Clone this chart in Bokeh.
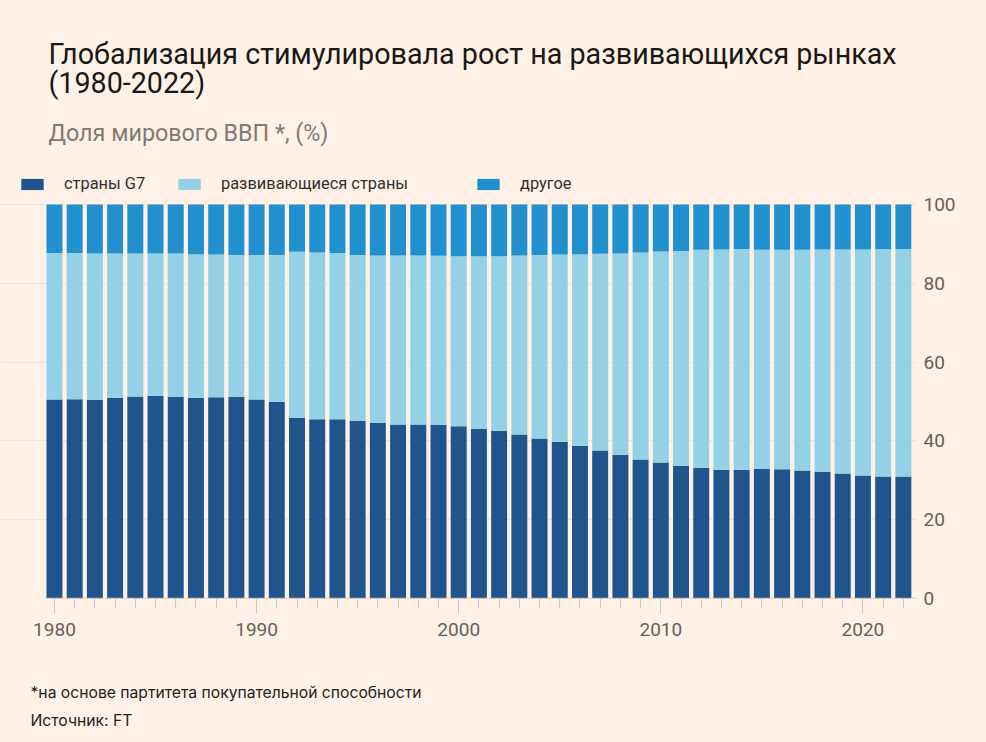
from bokeh.plotting import figure
from bokeh.layouts import column
from bokeh.models import ColumnDataSource, FixedTicker, Label, Legend, LegendItem, Range1d
from bokeh.embed import file_html
from bokeh.resources import INLINE

# ---------------- data ----------------
years = list(range(1980, 2023))
g7 = [50.5, 50.6, 50.4, 50.9, 51.3, 51.4, 51.2, 50.9, 51.1, 51.2,
      50.5, 49.9, 45.9, 45.5, 45.5, 45.1, 44.6, 44.2, 44.2, 44.1,
      43.7, 43.1, 42.6, 41.6, 40.6, 39.8, 38.8, 37.6, 36.5, 35.3,
      34.5, 33.7, 33.2, 32.7, 32.6, 32.9, 32.8, 32.5, 32.1, 31.7,
      31.2, 31.0, 31.0]
developing = [37.2, 37.1, 37.2, 36.7, 36.3, 36.2, 36.4, 36.5, 36.2, 36.0,
              36.7, 37.3, 42.1, 42.3, 42.2, 42.1, 42.5, 42.9, 42.9, 42.9,
              43.2, 43.8, 44.3, 45.5, 46.6, 47.5, 48.6, 49.9, 51.1, 52.5,
              53.6, 54.5, 55.3, 55.9, 56.1, 55.6, 55.7, 56.0, 56.5, 56.9,
              57.4, 57.7, 57.7]
other = [12.3, 12.3, 12.4, 12.4, 12.4, 12.4, 12.4, 12.6, 12.7, 12.8,
         12.8, 12.8, 12.0, 12.2, 12.3, 12.8, 12.9, 12.9, 12.9, 13.0,
         13.1, 13.1, 13.1, 12.9, 12.8, 12.7, 12.6, 12.5, 12.4, 12.2,
         11.9, 11.8, 11.5, 11.4, 11.3, 11.5, 11.5, 11.5, 11.4, 11.4,
         11.4, 11.3, 11.3]
series = ["g7", "developing", "other"]
legend_labels = ["страны G7", "развивающиеся страны", "другое"]
x_ticks = [1980, 1990, 2000, 2010, 2020]
y_ticks = [0, 20, 40, 60, 80, 100]
title_lines = ["Глобализация стимулировала рост на развивающихся рынках", "(1980-2022)"]
subtitle = "Доля мирового ВВП *, (%)"
footnote = "*на основе партитета покупательной способности"
source_note = "Источник: FT"

# ---------------- style ----------------
BG = "#fff1e5"
colors = ["#1f558c", "#94d1e6", "#2190cf"]
TICK_COL = "#d2c8be"
LABEL_COL = "#66605c"
FONT = "Roboto"

src = ColumnDataSource(dict(year=years, g7=g7, developing=developing, other=other))

# Main figure: its frame covers the title/legend area too; 100 % sits at ~204 px, 0 % at 598 px.
p = figure(width=986, height=646,
           x_range=Range1d(1977.33, 2022.65), y_range=Range1d(0, 151.8),
           y_axis_location="right",
           output_backend="svg", toolbar_location=None,
           min_border_left=0, min_border_right=70,
           min_border_top=0, min_border_bottom=48,
           background_fill_color=BG, border_fill_color=BG,
           outline_line_color=None)

renderers = p.vbar_stack(series, x="year", width=0.79, source=src,
                         fill_color=colors, line_color=None)

# baseline of the x axis, spanning only the bar area
axis_src = ColumnDataSource(dict(x0=[years[0] - 0.45], x1=[years[-1] + 0.68], y0=[0], y1=[0]))
p.segment(x0="x0", x1="x1", y0="y0", y1="y1", source=axis_src,
          line_color=TICK_COL, line_width=1.5)

# axes
xa = p.xaxis[0]
xa.ticker = FixedTicker(ticks=x_ticks, minor_ticks=years)
xa.axis_line_color = None
xa.major_tick_line_color = TICK_COL
xa.minor_tick_line_color = TICK_COL
xa.major_tick_out = 15
xa.major_tick_in = 0
xa.minor_tick_out = 10
xa.minor_tick_in = 0
xa.major_label_standoff = 9
xa.major_label_text_font = FONT
xa.major_label_text_font_size = "19px"
xa.major_label_text_color = LABEL_COL

ya = p.yaxis[0]
ya.ticker = FixedTicker(ticks=y_ticks)
ya.axis_line_color = None
ya.major_tick_line_color = None
ya.minor_tick_line_color = None
ya.major_tick_out = 0
ya.major_tick_in = 0
ya.major_label_standoff = 7
ya.major_label_text_font = FONT
ya.major_label_text_font_size = "19px"
ya.major_label_text_color = LABEL_COL

p.xgrid.visible = False
p.ygrid.ticker = FixedTicker(ticks=y_ticks)
p.ygrid.grid_line_color = "#efe4da"

# legend entries, placed like the reference
leg_x = [18, 175, 474]
for lab, r, lx in zip(legend_labels, renderers, leg_x):
    lg = Legend(items=[LegendItem(label=lab, renderers=[r])],
                location=(lx, 405), orientation="horizontal",
                glyph_width=28, glyph_height=14, label_height=14,
                label_standoff=18, padding=0, margin=0, spacing=0,
                border_line_color=None, background_fill_alpha=0,
                label_text_font=FONT, label_text_font_size="16.4px",
                label_text_color="#33302e")
    p.add_layout(lg, "center")

# title and subtitle
p.add_layout(Label(x=48, y=545, x_units="screen", y_units="screen", text=title_lines[0],
                   text_font=FONT, text_font_size="28.7px", text_color="#1a1817",
                   text_baseline="alphabetic"))
p.add_layout(Label(x=48, y=516, x_units="screen", y_units="screen", text=title_lines[1],
                   text_font=FONT, text_font_size="28.7px", text_color="#1a1817",
                   text_baseline="alphabetic"))
p.add_layout(Label(x=48, y=466, x_units="screen", y_units="screen", text=subtitle,
                   text_font=FONT, text_font_size="23.3px", text_color="#807a75",
                   text_baseline="alphabetic"))

# notes strip below the chart
notes = figure(width=986, height=96, x_range=Range1d(0, 1), y_range=Range1d(0, 1),
               x_axis_type=None, y_axis_type=None,
               output_backend="svg", toolbar_location=None,
               min_border_left=0, min_border_right=0, min_border_top=0, min_border_bottom=0,
               background_fill_color=BG, border_fill_color=BG, outline_line_color=None)
notes.add_layout(Label(x=30, y=50, x_units="screen", y_units="screen", text=footnote,
                       text_font="Inter", text_font_size="15.7px", text_color="#222222",
                       text_baseline="alphabetic"))
notes.add_layout(Label(x=30, y=22, x_units="screen", y_units="screen", text=source_note,
                       text_font="Inter", text_font_size="15.7px", text_color="#222222",
                       text_baseline="alphabetic"))

layout = column(p, notes, spacing=0, styles={"background-color": BG})
open("out.html", "w").write(file_html(layout, INLINE))
